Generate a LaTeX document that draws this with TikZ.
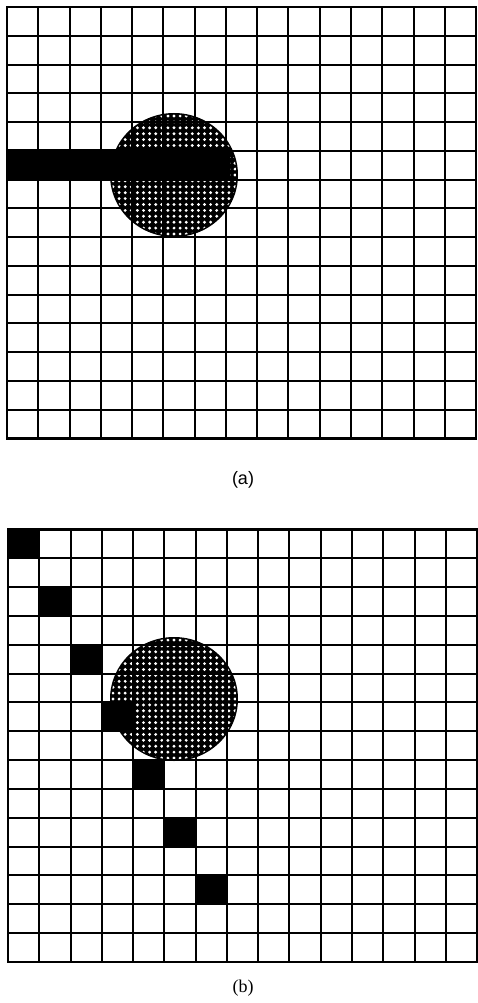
\documentclass[tikz,border=0pt]{standalone}
\usepackage{fontspec}
\setmainfont{Liberation Sans}
\newfontfamily\serifb{Liberation Serif}
\begin{document}
\begin{tikzpicture}[x=1pt,y=-1pt,
  gridline/.style={line width=2pt,black},
  border/.style={line width=2.8pt,black},
  dotw/.style={white},
  lbl/.style={font=\fontsize{18}{20}\selectfont,inner sep=0pt}]
\useasboundingbox (0,0) rectangle (478,1003);
\fill[white] (0,0) rectangle (478,1003);

% ---------- panel (a) ----------
\fill[black] (174,175) ellipse [x radius=64pt, y radius=62pt];
\begin{scope}
  \clip (174,175) ellipse [x radius=62.5pt, y radius=60.5pt];
  \foreach \i in {-11,...,11}{
    \foreach \j in {-11,...,11}{
      \fill[dotw] ({174+\i*6.1},{175+\j*5.9}) circle[radius=1.6pt];
    }}
\end{scope}
\fill[black] (7,149) rectangle (230,179);
\foreach \i in {0,...,15}{
  \draw[gridline] ({7+\i*31.27},7) -- ({7+\i*31.27},438.5);
  \draw[gridline] (7,{7+\i*28.77}) -- (476,{7+\i*28.77});
}
\draw[border] (7,7) rectangle (476,438.5);
\node[lbl] (la) at (243,480) {(a)};

% ---------- panel (b) ----------
\fill[black] (174,699) ellipse [x radius=64pt, y radius=62pt];
\begin{scope}
  \clip (174,699) ellipse [x radius=62.5pt, y radius=60.5pt];
  \foreach \i in {-11,...,11}{
    \foreach \j in {-11,...,11}{
      \fill[dotw] ({174+\i*6.1},{699+\j*5.9}) circle[radius=1.6pt];
    }}
\end{scope}
\foreach \k in {0,...,6}{
  \fill[black] ({8+\k*31.27},{529.5+2*\k*28.83}) rectangle ++(31.27,28.83);
}
\foreach \i in {0,...,15}{
  \draw[gridline] ({8+\i*31.27},529.5) -- ({8+\i*31.27},962);
  \draw[gridline] (8,{529.5+\i*28.83}) -- (477,{529.5+\i*28.83});
}
\draw[border] (8,529.5) rectangle (477,962);
\node[lbl,font=\serifb\fontsize{18}{20}\selectfont] (lb) at (243,988) {(b)};
\end{tikzpicture}
\end{document}
